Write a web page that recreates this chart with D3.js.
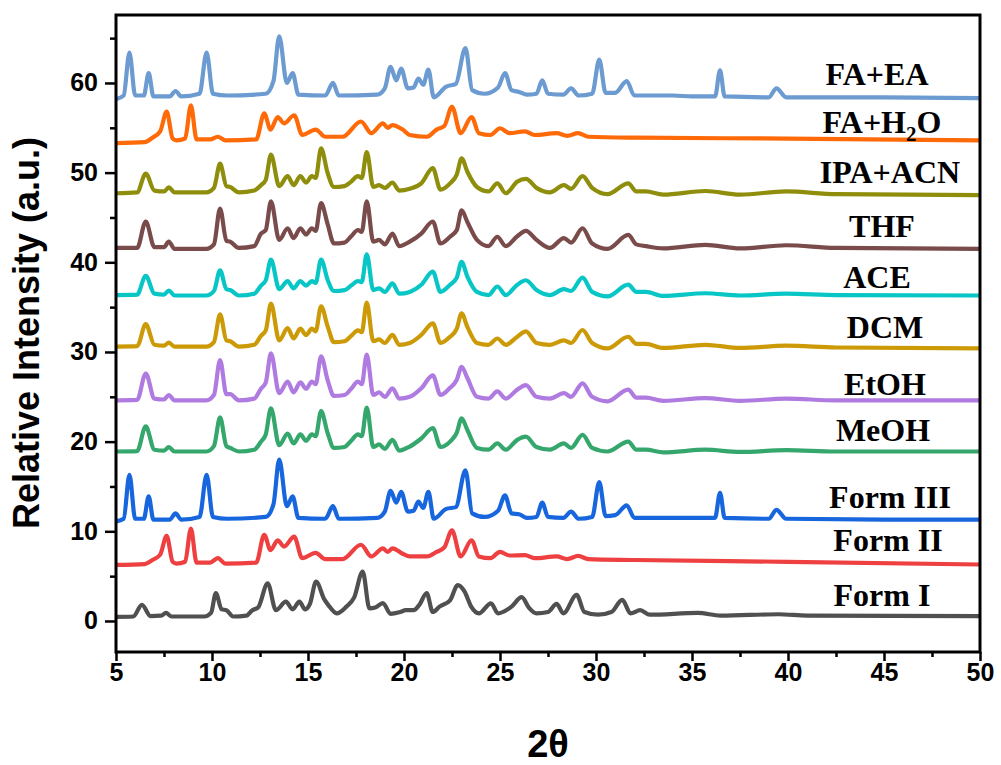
<!DOCTYPE html>
<html>
<head>
<meta charset="utf-8">
<script src="https://cdnjs.cloudflare.com/ajax/libs/d3/7.8.5/d3.min.js"></script>
<style>
  body { margin: 0; background: #fff; }
</style>
</head>
<body>
<div id="chart-area"></div>
<script>
// ---- data (2theta, stacked intensity) ----
var seriesNames = ["Form I", "Form II", "Form III", "MeOH", "EtOH", "DCM", "ACE", "THF", "IPA+ACN", "FA+H2O", "FA+EA"];

var xTicks = [5, 10, 15, 20, 25, 30, 35, 40, 45, 50];
var yTicks = [0, 10, 20, 30, 40, 50, 60];

// Form I vertices
var formIX = [5.0, 5.9, 6.35, 6.8, 7.35, 7.6, 7.9, 9.6, 9.95, 10.2,
    10.5, 10.75, 11.1, 11.8, 12.1, 12.4, 12.9, 13.33, 13.85, 14.2,
    14.55, 14.85, 15.1, 15.42, 15.85, 16.05, 16.5, 17.0, 17.4, 17.85,
    18.2, 18.5, 18.9, 19.3, 19.8, 20.1, 20.5, 20.8, 21.18, 21.5,
    21.85, 22.4, 22.8, 23.15, 23.5, 23.9, 24.53, 24.9, 25.6, 26.13,
    26.5, 26.9, 27.5, 27.95, 28.3, 28.99, 29.4, 30.1, 30.8, 31.37,
    31.8, 32.3, 32.8, 35.3, 36.5, 39.5, 41.0, 50.0];
var formI = [0.45, 0.5, 1.8, 0.55, 0.6, 0.9, 0.5, 0.5, 0.9, 3.1,
    1.3, 1.2, 0.5, 0.6, 1.2, 1.5, 4.2, 1.2, 2.15, 1.3,
    2.15, 1.3, 1.9, 4.4, 2.4, 1.8, 0.85, 1.6, 2.6, 5.5,
    1.4, 1.5, 2.0, 0.8, 1.0, 1.2, 1.2, 1.8, 3.1, 1.0,
    1.6, 2.3, 4.0, 3.3, 1.6, 0.85, 1.97, 0.85, 1.6, 2.65,
    1.5, 0.85, 1.0, 1.9, 0.85, 2.9, 1.0, 0.7, 1.0, 2.35,
    0.85, 1.2, 0.7, 0.9, 0.6, 0.75, 0.6, 0.55];

// Form II type vertices (Form II, FA+H2O)
var formIIX = [5.0, 6.5, 6.9, 7.3, 7.64, 7.95, 8.15, 8.6, 8.9, 9.2,
    9.9, 10.3, 10.7, 12.3, 12.72, 13.05, 13.42, 13.75, 14.28, 14.7,
    15.4, 15.9, 16.8, 17.76, 18.3, 18.9, 19.15, 19.4, 19.93, 20.3,
    21.2, 21.7, 22.1, 22.5, 22.95, 23.52, 23.9, 24.5, 25.0, 25.5,
    26.3, 26.8, 27.95, 28.5, 29.07, 29.6, 32.0, 40.0, 50.0];
var formII = [6.25, 6.35, 6.8, 7.4, 9.5, 6.6, 6.4, 6.6, 10.3, 6.5,
    6.5, 7.0, 6.4, 6.5, 9.6, 7.9, 9.0, 8.3, 9.4, 7.0,
    7.6, 6.9, 6.9, 8.5, 7.2, 8.1, 7.7, 8.1, 7.5, 7.2,
    7.2, 7.7, 8.2, 10.1, 7.2, 9.0, 7.2, 7.0, 7.7, 7.3,
    7.35, 7.0, 7.2, 6.9, 7.25, 6.9, 6.8, 6.6, 6.3];
var faH2O = [53.3, 53.4, 53.9, 54.6, 56.8, 53.8, 53.6, 53.8, 57.5, 53.7,
    53.7, 54.0, 53.6, 53.7, 56.6, 54.8, 56.2, 55.5, 56.4, 54.2,
    54.8, 54.0, 54.0, 55.7, 54.4, 55.5, 55.0, 55.3, 54.8, 54.2,
    54.0, 54.8, 55.2, 57.35, 54.4, 56.2, 54.4, 54.2, 54.95, 54.4,
    54.6, 54.2, 54.4, 54.1, 54.4, 54.0, 53.9, 53.8, 53.6];

// Form III type vertices (Form III, FA+EA)
var formIIIX = [5.0, 5.4, 5.7, 6.0, 6.45, 6.7, 6.95, 7.8, 8.1, 8.4,
    9.35, 9.72, 10.05, 10.8, 12.8, 13.2, 13.5, 13.9, 14.2, 14.5,
    15.9, 16.3, 16.6, 18.6, 19.0, 19.3, 19.6, 19.85, 20.2, 20.5,
    20.75, 21.0, 21.27, 21.55, 22.2, 22.7, 23.2, 23.55, 24.2, 24.9,
    25.26, 25.6, 26.0, 26.4, 26.9, 27.2, 27.5, 28.3, 28.7, 29.1,
    29.8, 30.17, 30.5, 31.0, 31.6, 32.0, 34.0, 35.0, 36.2, 36.46,
    36.7, 39.0, 39.4, 39.9, 45.0, 50.0];
var formIII = [11.1, 11.4, 16.3, 11.4, 11.4, 13.9, 11.3, 11.3, 12.0, 11.3,
    11.6, 16.3, 11.6, 11.4, 11.6, 13.0, 18.0, 12.8, 13.9, 11.5,
    11.4, 12.8, 11.4, 11.5, 12.2, 14.5, 13.2, 14.4, 12.2, 12.3,
    13.3, 12.6, 14.4, 11.4, 12.5, 12.7, 16.8, 12.0, 11.6, 12.3,
    14.0, 12.0, 11.9, 11.5, 11.6, 13.2, 11.6, 11.5, 12.2, 11.4,
    11.6, 15.5, 11.7, 11.8, 12.9, 11.5, 11.5, 11.5, 11.5, 14.3,
    11.5, 11.4, 12.4, 11.4, 11.3, 11.3];
var faEa = [58.2, 58.6, 63.4, 58.6, 58.6, 61.1, 58.5, 58.5, 59.1, 58.5,
    58.8, 63.4, 58.8, 58.6, 58.8, 60.2, 65.2, 60.0, 61.1, 58.7,
    58.6, 60.0, 58.6, 58.7, 59.4, 61.8, 60.3, 61.6, 59.4, 59.5,
    60.5, 59.8, 61.5, 58.4, 59.6, 59.9, 63.9, 59.2, 58.8, 59.5,
    61.1, 59.2, 59.0, 58.7, 58.8, 60.3, 58.8, 58.7, 59.4, 58.6,
    58.8, 62.6, 58.9, 58.9, 60.2, 58.6, 58.6, 58.5, 58.5, 61.4,
    58.5, 58.4, 59.4, 58.4, 58.4, 58.3];

// solvent-grown samples share one set of peak positions
var solventX = [5.0, 6.1, 6.55, 7.0, 7.5, 7.75, 8.05, 9.7, 10.1, 10.42,
    10.75, 10.95, 11.4, 12.2, 12.55, 12.8, 13.07, 13.5, 13.94, 14.25,
    14.6, 14.9, 15.2, 15.4, 15.68, 16.03, 16.35, 16.9, 17.25, 17.6,
    17.8, 18.06, 18.4, 18.7, 19.0, 19.4, 19.75, 20.3, 20.9, 21.5,
    21.9, 22.4, 22.75, 23.0, 23.3, 23.8, 24.4, 24.86, 25.3, 25.9,
    26.35, 26.9, 27.6, 28.33, 28.7, 29.3, 29.8, 30.6, 31.68, 32.1,
    32.6, 33.5, 35.7, 37.5, 39.9, 42.5, 50.0];
var meoh = [18.9, 18.95, 21.7, 19.1, 19.0, 19.4, 18.9, 18.9, 19.5, 22.7,
    19.5, 19.3, 18.9, 19.1, 20.0, 20.8, 23.7, 19.6, 20.9, 19.8,
    20.8, 20.1, 20.8, 20.6, 23.4, 20.9, 19.3, 19.4, 20.1, 20.8,
    20.6, 23.8, 19.4, 19.7, 19.2, 20.2, 19.0, 19.45, 20.35, 21.5,
    19.4, 20.0, 21.0, 22.6, 21.3, 19.3, 19.1, 19.8, 19.1, 20.2,
    20.55, 19.4, 19.1, 19.8, 19.3, 20.75, 19.3, 18.9, 20.0, 19.1,
    19.1, 18.8, 19.1, 18.85, 19.05, 18.9, 18.9];
var etoh = [24.6, 24.65, 27.6, 24.8, 24.7, 25.2, 24.6, 24.6, 25.2, 29.1,
    25.3, 25.3, 24.6, 24.8, 25.9, 26.6, 29.85, 25.4, 26.7, 25.5,
    26.6, 25.9, 26.7, 26.4, 29.5, 26.8, 25.1, 25.2, 25.9, 26.7,
    26.4, 29.7, 25.2, 25.5, 25.0, 25.95, 24.8, 25.0, 25.95, 27.4,
    25.2, 26.0, 26.9, 28.35, 27.1, 25.0, 24.8, 25.6, 24.8, 25.8,
    26.3, 25.0, 24.8, 25.4, 25.0, 26.5, 25.0, 24.5, 25.8, 24.9,
    24.9, 24.55, 24.85, 24.55, 24.8, 24.6, 24.6];
var dcm = [30.6, 30.65, 33.1, 30.8, 30.7, 31.05, 30.6, 30.6, 31.1, 34.2,
    31.3, 31.2, 30.6, 30.8, 31.8, 32.4, 35.4, 31.3, 32.65, 31.5,
    32.6, 31.9, 32.6, 32.3, 35.1, 32.8, 31.1, 31.2, 31.8, 32.4,
    32.2, 35.5, 31.2, 31.4, 31.0, 31.9, 30.8, 31.0, 31.9, 33.2,
    31.0, 31.7, 32.6, 34.3, 32.8, 31.0, 30.8, 31.5, 30.8, 31.7,
    32.3, 31.0, 30.8, 31.3, 31.0, 32.45, 31.0, 30.4, 31.7, 30.9,
    30.9, 30.45, 30.8, 30.45, 30.7, 30.5, 30.4];
var ace = [36.35, 36.4, 38.5, 36.5, 36.4, 36.85, 36.3, 36.3, 36.8, 39.1,
    37.0, 36.9, 36.3, 36.5, 37.4, 38.0, 40.3, 37.0, 37.9, 37.1,
    37.9, 37.4, 37.9, 37.7, 40.3, 38.0, 36.8, 36.9, 37.4, 37.9,
    37.8, 40.9, 36.9, 37.1, 36.7, 37.65, 36.5, 36.7, 37.5, 38.95,
    36.7, 37.5, 38.3, 40.05, 38.4, 36.7, 36.35, 37.3, 36.35, 37.5,
    38.0, 36.9, 36.35, 37.0, 36.8, 38.3, 36.7, 36.2, 37.5, 36.7,
    36.7, 36.25, 36.55, 36.3, 36.5, 36.35, 36.3];
var thf = [41.6, 41.6, 44.55, 41.7, 41.7, 42.3, 41.5, 41.5, 42.0, 46.0,
    42.4, 42.3, 41.6, 41.8, 43.2, 43.6, 46.8, 42.5, 43.8, 42.7,
    43.8, 43.1, 43.8, 43.5, 46.6, 44.2, 42.1, 42.2, 42.9, 43.6,
    43.4, 46.8, 42.3, 42.5, 42.0, 43.2, 41.8, 42.3, 43.2, 44.55,
    42.1, 42.85, 43.6, 45.8, 44.5, 42.5, 41.8, 42.85, 41.8, 42.9,
    43.5, 42.5, 41.6, 42.7, 42.2, 43.8, 42.1, 41.5, 43.05, 42.0,
    41.8, 41.55, 41.95, 41.55, 41.9, 41.6, 41.5];
var ipaAcn = [47.7, 47.8, 49.9, 48.0, 47.9, 48.35, 47.8, 47.8, 48.3, 51.0,
    48.5, 48.4, 47.8, 48.0, 48.6, 49.2, 52.0, 48.5, 49.6, 48.6,
    49.6, 48.9, 49.6, 49.4, 52.7, 49.9, 48.4, 48.5, 49.0, 49.6,
    49.4, 52.3, 48.4, 48.6, 48.3, 48.9, 48.0, 48.2, 48.8, 50.5,
    48.1, 48.8, 49.8, 51.6, 50.1, 48.4, 47.9, 48.8, 47.7, 49.0,
    49.3, 48.3, 47.8, 48.6, 48.2, 49.6, 48.3, 47.6, 48.8, 47.9,
    47.9, 47.55, 47.95, 47.55, 47.9, 47.6, 47.5];

function xrdPlot(){
    var margin = { left:116, right:21, top:15, bottom:113 };
    var width = 1001 - margin.left - margin.right,
        height = 765 - margin.top - margin.bottom;

    var colors = ["#505050", "#ee4040", "#1766dd", "#35a76c", "#af7be0", "#cc9a06",
                  "#08c6c6", "#7a4b4b", "#8e8e0c", "#ff6a08", "#6b9bd0"];

    var xs = [formIX, formIIX, formIIIX, solventX, solventX, solventX, solventX, solventX, solventX, formIIX, formIIIX];
    var ys = [formI, formII, formIII, meoh, etoh, dcm, ace, thf, ipaAcn, faH2O, faEa];

    var series = seriesNames.map(function(name, i){
        return { name: name, color: colors[i],
                 points: xs[i].map(function(d, j){ return [d, ys[i][j]]; }) };
    });

    // label centres (px, baseline)
    var labelPos = [[882, 606], [888, 551], [890, 508], [883, 441], [885, 395], [885, 338],
                    [877, 288], [882, 237], [890, 183], [882, 133], [877, 85]];

    var svg = d3.select("#chart-area")
        .append("svg")
        .attr("width", width + margin.left + margin.right)
        .attr("height", height + margin.top + margin.bottom)
        .append("g")
        .attr("transform", "translate(" + margin.left + ", " + margin.top + ")");

    var x = d3.scaleLinear()
        .domain([5, 50])
        .range([0, width]);

    var y = d3.scaleLinear()
        .domain([-3.46, 67.58])
        .range([height, 0]);

    svg.append("clipPath")
        .attr("id", "plot-clip")
        .append("rect")
        .attr("width", width)
        .attr("height", height);

    var line = d3.line()
        .x(function(d){ return x(d[0]); })
        .y(function(d){ return y(d[1]); })
        .curve(d3.curveMonotoneX);

    svg.append("g")
        .attr("clip-path", "url(#plot-clip)")
        .selectAll("path")
        .data(series)
        .enter().append("path")
        .attr("d", function(d){ return line(d.points); })
        .attr("fill", "none")
        .attr("stroke", function(d){ return d.color; })
        .attr("stroke-width", 4.2)
        .attr("stroke-linejoin", "round");

    // X axis, major + minor ticks
    svg.append("g")
        .attr("transform", "translate(0," + height + ")")
        .call(d3.axisBottom(x).tickValues(xTicks).tickSize(9).tickPadding(2).tickSizeOuter(0));
    svg.append("g")
        .attr("transform", "translate(0," + height + ")")
        .call(d3.axisBottom(x).tickValues(d3.range(7.5, 50, 5)).tickSize(5).tickFormat(""));

    svg.append("g")
        .call(d3.axisLeft(y).tickValues(yTicks).tickSize(11).tickPadding(7).tickSizeOuter(0));
    svg.append("g")
        .call(d3.axisLeft(y).tickValues(d3.range(5, 70, 10)).tickSize(6).tickFormat(""));

    svg.selectAll(".domain").remove();
    svg.selectAll(".tick line").attr("stroke", "#000").attr("stroke-width", 2.5);
    svg.selectAll(".tick text")
        .attr("font-family", "Liberation Sans, Arial, sans-serif")
        .attr("font-weight", "bold")
        .attr("font-size", "25px")
        .attr("fill", "#000");

    // frame
    svg.append("rect")
        .attr("width", width)
        .attr("height", height)
        .attr("fill", "none")
        .attr("stroke", "#000")
        .attr("stroke-width", 3);

    // axis labels
    svg.append("text")
        .attr("x", width / 2)
        .attr("y", 757 - margin.top)
        .attr("text-anchor", "middle")
        .attr("font-family", "Liberation Sans, Arial, sans-serif")
        .attr("font-weight", "bold")
        .attr("font-size", "38px")
        .text("2\u03b8");

    svg.append("text")
        .attr("transform", "rotate(-90)")
        .attr("x", -(333 - margin.top))
        .attr("y", 39 - margin.left)
        .attr("text-anchor", "middle")
        .attr("font-family", "Liberation Sans, Arial, sans-serif")
        .attr("font-weight", "bold")
        .attr("font-size", "36px")
        .text("Relative Intensity (a.u.)");

    // series labels
    series.forEach(function(s, i){
        var t = svg.append("text")
            .attr("x", labelPos[i][0] - margin.left)
            .attr("y", labelPos[i][1] - margin.top)
            .attr("text-anchor", "middle")
            .attr("font-family", "Liberation Serif, Times New Roman, serif")
            .attr("font-weight", "bold")
            .attr("font-size", "32px")
            .attr("fill", "#000");
        if (s.name == "FA+H2O"){
            t.append("tspan").text("FA+H");
            t.append("tspan").attr("font-size", "21px").attr("dy", 8).text("2");
            t.append("tspan").attr("dy", -8).text("O");
        }
        else {
            t.text(s.name);
        }
    });
}

xrdPlot();
</script>
</body>
</html>
